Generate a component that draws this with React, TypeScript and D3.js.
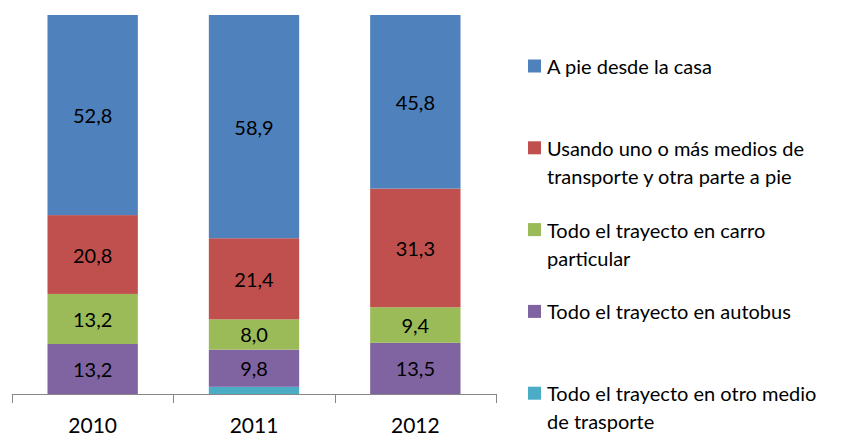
import React from "react";
import * as d3 from "d3";

const years = ["2010", "2011", "2012"];

const series = [
  "Todo el trayecto en otro medio de trasporte",
  "Todo el trayecto en autobus",
  "Todo el trayecto en carro particular",
  "Usando uno o más medios de transporte y otra parte a pie",
  "A pie desde la casa",
];

// values per series, in order of years
const otroMedio = [0, 1.9, 0];
const autobus = [13.2, 9.8, 13.5];
const carro = [13.2, 8.0, 9.4];
const mixto = [20.8, 21.4, 31.3];
const aPie = [52.8, 58.9, 45.8];

const colors = ["#4BACC6", "#8064A2", "#9BBB59", "#C0504D", "#4F81BD"];

// legend order (top to bottom) with the wrapped lines
const legendItems = [
  { color: "#4F81BD", lines: ["A pie desde la casa"] },
  { color: "#C0504D", lines: ["Usando uno o más medios de", "transporte y otra parte a pie"] },
  { color: "#9BBB59", lines: ["Todo el trayecto en carro", "particular"] },
  { color: "#8064A2", lines: ["Todo el trayecto en autobus"] },
  { color: "#4BACC6", lines: ["Todo el trayecto en otro medio", "de trasporte"] },
];

const W = 844;
const H = 437;
const FONT = "Lato, 'Open Sans', sans-serif";

const App = () => {
  const values = [otroMedio, autobus, carro, mixto, aPie];
  const rows = years.map((yr, i) => {
    const row: any = { year: yr };
    series.forEach((s, k) => (row[s] = values[k][i]));
    return row;
  });
  const stacked = d3.stack<any>().keys(series)(rows);

  const x = d3.scaleBand().domain(years).range([12, 496]).paddingInner(0.44).paddingOuter(0.22);
  const y = d3.scaleLinear().domain([0, 100]).range([394, 15]);
  const fmt = (v: number) => d3.format(".1f")(v).replace(".", ",");

  const boundaries = d3.range(years.length + 1).map((i) => 12 + i * x.step());

  return (
    <svg width={W} height={H} style={{ position: "absolute", left: 0, top: 0 }} fontFamily={FONT}>
      <rect width={W} height={H} fill="#fff" />
      {stacked.map((layer, k) => (
        <g key={layer.key} fill={colors[k]}>
          {layer.map((d, i) => {
            const h = y(d[0]) - y(d[1]);
            if (h <= 0) return null;
            return (
              <rect key={i} x={x(years[i])} y={y(d[1])} width={x.bandwidth()} height={h} />
            );
          })}
        </g>
      ))}
      {stacked.map((layer, k) =>
        k === 0
          ? null
          : layer.map((d, i) => (
              <text
                key={layer.key + i}
                x={(x(years[i]) as number) + x.bandwidth() / 2}
                y={(y(d[0]) + y(d[1])) / 2}
                textAnchor="middle"
                dominantBaseline="central"
                fontSize={20}
                fill="#000"
              >
                {fmt(d[1] - d[0])}
              </text>
            ))
      )}
      <g stroke="#868686" strokeWidth={1}>
        <line x1={12} x2={496} y1={394.5} y2={394.5} />
        {boundaries.map((b, i) => (
          <line key={i} x1={Math.round(b) + 0.5} x2={Math.round(b) + 0.5} y1={394} y2={403} />
        ))}
      </g>
      {years.map((yr) => (
        <text
          key={yr}
          x={(x(yr) as number) + x.bandwidth() / 2}
          y={433}
          textAnchor="middle"
          fontSize={21}
          fill="#000"
        >
          {yr}
        </text>
      ))}
      {legendItems.map((item, i) => {
        const cy = 66 + i * 81.8;
        return (
          <g key={i}>
            <rect x={528} y={cy - 6.5} width={13} height={13} fill={item.color} />
            {item.lines.map((ln, j) => (
              <text key={j} x={547} y={cy + j * 28} dominantBaseline="central" fontSize={20} fill="#000">
                {ln}
              </text>
            ))}
          </g>
        );
      })}
    </svg>
  );
};

export default App;
